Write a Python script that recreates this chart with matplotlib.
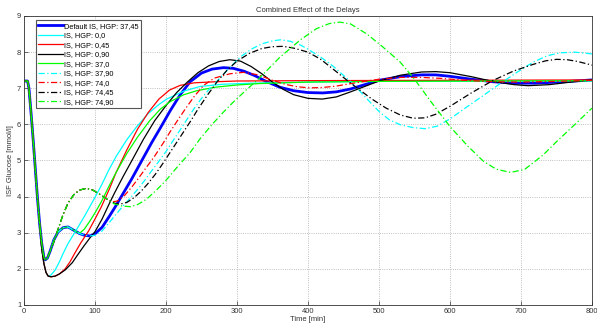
import numpy as np
import matplotlib
matplotlib.use("Agg")
import matplotlib.pyplot as plt

plt.rcParams['font.family'] = ['Liberation Sans', 'DejaVu Sans']

# shared beginning: all runs start at 7.2 and drop fast
t_start = [0, 5, 7, 10, 13, 16, 19, 22]
g_start = [7.2, 7.2, 7.0, 6.3, 5.55, 4.75, 3.95, 3.25]

# IS delay 0 -> deeper minimum
t_is0 = [25, 28, 31, 34]
g_is0 = [2.55, 2.15, 1.9, 1.8]

# IS delay 37 -> small hump
t_is37 = [25, 28, 30, 33, 37, 42, 48, 55, 62, 70, 78]
g_is37 = [2.7, 2.32, 2.25, 2.3, 2.5, 2.8, 3.02, 3.14, 3.16, 3.07, 2.98]

# IS delay 74 -> bigger hump
t_is74 = [25, 28, 30, 33, 37, 42, 48, 55, 62, 70, 78, 88, 97, 107, 117]
g_is74 = [2.7, 2.32, 2.25, 2.3, 2.5, 2.75, 3.1, 3.5, 3.82, 4.05, 4.18, 4.23, 4.18, 4.06, 3.93]

# per run tails
t_37_45 = [85, 93, 100, 110, 120, 128, 140, 152, 166, 180, 192, 206, 220, 234, 250, 265, 281, 295, 310, 325, 340,
           360, 380, 400, 421, 440, 460, 480, 500, 530, 560, 580, 600, 630, 660, 690, 720, 760, 800]
g_37_45 = [2.93, 2.91, 2.97, 3.15, 3.45, 3.7, 4.1, 4.5, 5.0, 5.5, 5.9, 6.38, 6.82, 7.18, 7.42, 7.53, 7.57, 7.55, 7.47,
           7.35, 7.2, 7.03, 6.93, 6.88, 6.87, 6.9, 6.98, 7.1, 7.22, 7.32, 7.37, 7.37, 7.33, 7.25, 7.18, 7.14, 7.14, 7.18, 7.23]

t_0_0 = [38, 44, 50, 55, 62, 72, 85, 100, 110, 119, 130, 145, 159, 175, 190, 201, 225, 248, 280, 320, 400, 500, 800]
g_0_0 = [1.83, 1.97, 2.2, 2.42, 2.7, 3.02, 3.45, 3.98, 4.35, 4.72, 5.12, 5.58, 5.94, 6.3, 6.55, 6.7, 6.92, 7.05, 7.11,
         7.14, 7.17, 7.19, 7.2]

t_0_45 = [38, 44, 50, 58, 65, 72, 80, 91, 100, 109, 120, 130, 145, 160, 175, 190, 205, 220, 240, 270, 300, 400, 800]
g_0_45 = [1.78, 1.8, 1.86, 2.0, 2.2, 2.45, 2.72, 3.05, 3.38, 3.72, 4.2, 4.68, 5.3, 5.87, 6.33, 6.7, 6.95, 7.08, 7.15,
          7.18, 7.2, 7.21, 7.23]

t_0_90 = [38, 44, 50, 58, 68, 76, 85, 93, 100, 110, 120, 128, 140, 152, 168, 184, 200, 215, 230, 245, 260, 275, 290,
          305, 320, 335, 350, 365, 380, 400, 420, 440, 460, 480, 500, 530, 560, 580, 600, 630, 660, 690, 710, 740, 770, 800]
g_0_90 = [1.78, 1.8, 1.86, 1.97, 2.17, 2.4, 2.65, 2.86, 3.03, 3.38, 3.8, 4.12, 4.57, 5.0, 5.58, 6.1, 6.52, 6.88, 7.17,
          7.43, 7.62, 7.74, 7.79, 7.75, 7.6, 7.4, 7.17, 6.97, 6.82, 6.72, 6.7, 6.76, 6.9, 7.05, 7.2, 7.36, 7.45, 7.46,
          7.43, 7.32, 7.19, 7.1, 7.07, 7.1, 7.17, 7.23]

t_37_0 = [85, 93, 100, 109, 120, 130, 145, 160, 177, 192, 206, 225, 243, 270, 300, 332, 400, 500, 650, 800]
g_37_0 = [3.1, 3.33, 3.55, 3.86, 4.3, 4.68, 5.2, 5.65, 6.1, 6.42, 6.63, 6.82, 6.93, 7.03, 7.09, 7.13, 7.17, 7.19, 7.2, 7.21]

t_37_90 = [85, 93, 100, 110, 120, 130, 140, 150, 160, 170, 180, 190, 200, 210, 220, 230, 240, 250, 262, 276, 290, 305,
           320, 335, 350, 361, 375, 390, 400, 418, 436, 459, 473, 490, 501, 515, 530, 548, 565, 582, 600, 625, 647,
           670, 695, 717, 737, 755, 775, 800]
g_37_90 = [2.93, 2.91, 2.93, 3.05, 3.28, 3.52, 3.75, 3.97, 4.2, 4.45, 4.72, 4.98, 5.25, 5.55, 5.85, 6.15, 6.45, 6.72,
           7.0, 7.28, 7.58, 7.87, 8.08, 8.23, 8.31, 8.34, 8.3, 8.19, 8.08, 7.86, 7.6, 7.2, 6.92, 6.56, 6.34, 6.12,
           5.99, 5.91, 5.88, 5.95, 6.15, 6.5, 6.8, 7.12, 7.45, 7.72, 7.9, 7.98, 8.0, 7.95]

t_74_0 = [124, 132, 142, 152, 162, 172, 184, 196, 206, 216, 228, 240, 253, 268, 290, 309, 330, 350, 370, 385, 403,
          420, 440, 470, 500, 530, 560, 590, 620, 660, 700, 750, 800]
g_74_0 = [3.85, 3.88, 4.04, 4.27, 4.53, 4.8, 5.12, 5.48, 5.8, 6.1, 6.45, 6.78, 7.08, 7.28, 7.4, 7.44, 7.37, 7.22, 7.1,
          7.04, 7.01, 7.02, 7.06, 7.16, 7.25, 7.3, 7.3, 7.27, 7.22, 7.18, 7.17, 7.19, 7.22]

t_74_45 = [127, 135, 145, 155, 165, 175, 185, 195, 205, 215, 225, 235, 245, 258, 272, 286, 300, 318, 335, 350, 365,
           380, 400, 418, 436, 455, 473, 490, 510, 530, 548, 565, 580, 600, 630, 661, 690, 717, 735, 750, 765, 780, 800]
g_74_45 = [3.82, 3.79, 3.84, 3.97, 4.15, 4.37, 4.62, 4.9, 5.2, 5.5, 5.8, 6.1, 6.42, 6.8, 7.18, 7.5, 7.75, 7.97, 8.1,
           8.15, 8.16, 8.11, 8.0, 7.8, 7.52, 7.22, 6.95, 6.7, 6.45, 6.26, 6.17, 6.18, 6.28, 6.5, 6.87, 7.22, 7.48,
           7.66, 7.76, 7.8, 7.79, 7.74, 7.64]

t_74_90 = [127, 138, 150, 160, 172, 185, 200, 215, 234, 248, 265, 280, 295, 314, 330, 345, 360, 375, 390, 412, 430,
           445, 460, 483, 505, 530, 550, 575, 600, 625, 647, 665, 685, 705, 731, 750, 775, 800]
g_74_90 = [3.8, 3.74, 3.72, 3.78, 3.92, 4.15, 4.45, 4.8, 5.22, 5.6, 6.0, 6.32, 6.62, 6.97, 7.25, 7.55, 7.85, 8.1,
           8.35, 8.65, 8.79, 8.83, 8.78, 8.5, 8.15, 7.72, 7.25, 6.58, 5.94, 5.4, 4.98, 4.76, 4.67, 4.75, 5.15, 5.52,
           5.98, 6.45]

labels = ['Default IS, HGP: 37,45', 'IS, HGP: 0,0', 'IS, HGP: 0,45', 'IS, HGP: 0,90', 'IS, HGP: 37,0',
          'IS, HGP: 37,90', 'IS, HGP: 74,0', 'IS, HGP: 74,45', 'IS, HGP: 74,90']

runs = [
    (t_start + t_is37 + t_37_45, g_start + g_is37 + g_37_45),
    (t_start + t_is0 + t_0_0, g_start + g_is0 + g_0_0),
    (t_start + t_is0 + t_0_45, g_start + g_is0 + g_0_45),
    (t_start + t_is0 + t_0_90, g_start + g_is0 + g_0_90),
    (t_start + t_is37 + t_37_0, g_start + g_is37 + g_37_0),
    (t_start + t_is37 + t_37_90, g_start + g_is37 + g_37_90),
    (t_start + t_is74 + t_74_0, g_start + g_is74 + g_74_0),
    (t_start + t_is74 + t_74_45, g_start + g_is74 + g_74_45),
    (t_start + t_is74 + t_74_90, g_start + g_is74 + g_74_90),
]

colors = ['#0000ff', '#00ffff', '#ff0000', '#000000', '#00ff00', '#00ffff', '#ff0000', '#000000', '#00ff00']
dashdot = (0, (5, 2, 1, 2))
styles = ['-', '-', '-', '-', '-', dashdot, dashdot, dashdot, dashdot]
widths = [2.0, 0.9, 0.9, 0.9, 0.9, 0.9, 0.9, 0.9, 0.9]

fig = plt.figure(figsize=(5.97, 3.29), dpi=100)
ax = fig.add_axes([0.0402, 0.073, 0.9514, 0.8784])

for (t, g), lab, c, ls, lw in zip(runs, labels, colors, styles, widths):
    ax.plot(t, g, color=c, linestyle=ls, linewidth=lw, label=lab)

ax.set_xlim(0, 800)
ax.set_ylim(1, 9)
ax.set_xticks(np.arange(0, 801, 100))
ax.set_yticks(np.arange(1, 10, 1))
ax.grid(True, linestyle=':', color='#aaaaaa', linewidth=0.6)
ax.tick_params(direction='in', labelsize=5.5, length=3, width=0.5, pad=2, colors='#333333')
for s in ax.spines.values():
    s.set_linewidth(0.6)
    s.set_color('#333333')

ax.set_title('Combined Effect of the Delays', fontsize=5.5, pad=3, color='#333333')
ax.set_xlabel('Time [min]', fontsize=5.5, labelpad=1, color='#333333')
ax.set_ylabel('ISF Glucose [mmol/l]', fontsize=5.5, labelpad=2, color='#333333')

leg = ax.legend(loc='upper left', bbox_to_anchor=(0.019, 0.99), fontsize=5.3, fancybox=False,
                framealpha=1, edgecolor='#555555', handlelength=3.3, labelspacing=0.32,
                borderpad=0.3, handletextpad=0.15, borderaxespad=0.2)
leg.get_frame().set_linewidth(0.8)

fig.savefig('out.png', dpi=100)
